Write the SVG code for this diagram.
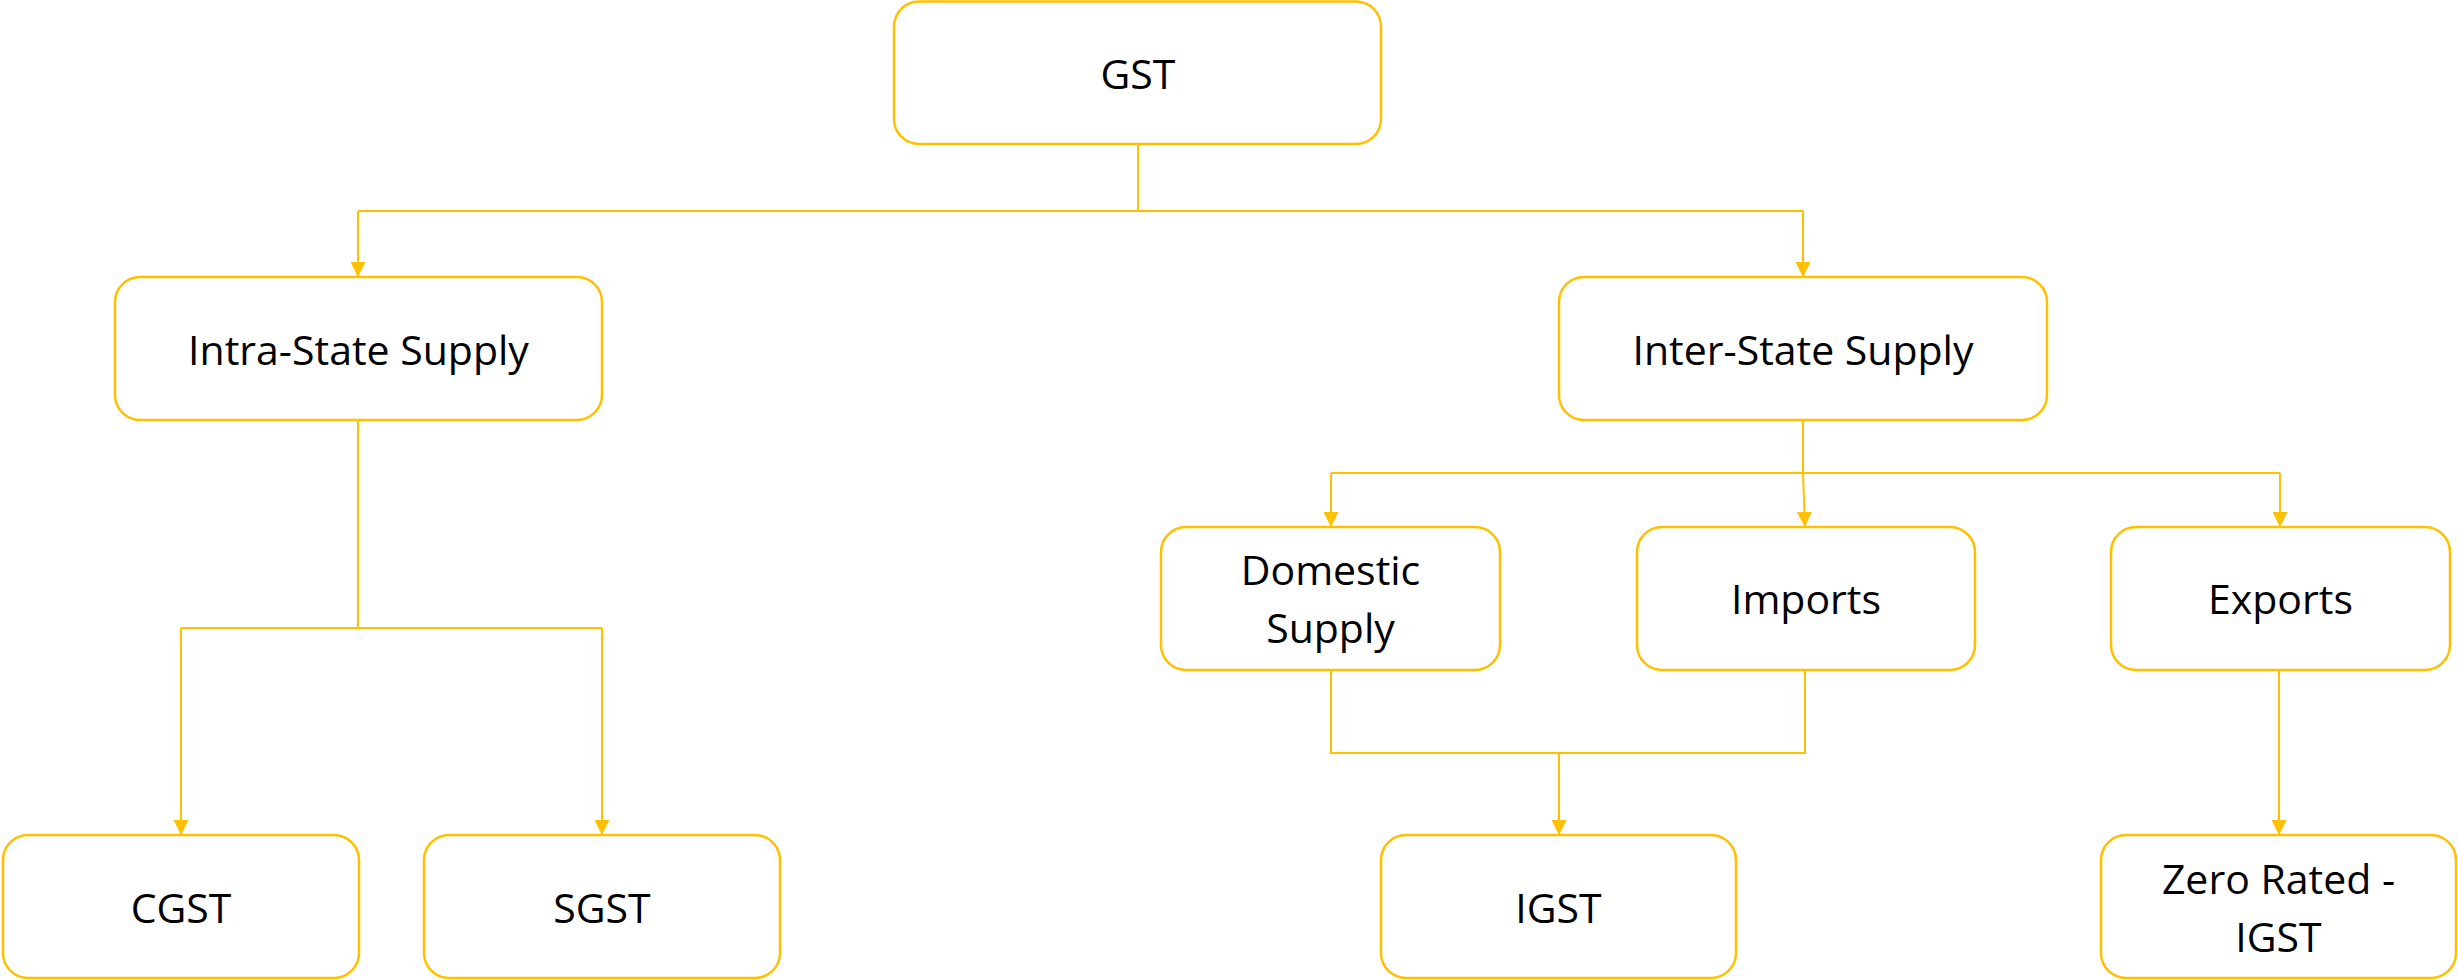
<svg xmlns="http://www.w3.org/2000/svg" width="2458" height="980" viewBox="0 0 2458 980">
  <style>
    .box { fill: #FFFFFF; stroke: #FFC000; stroke-width: 2.5; }
    .lbl { font-family: "Open Sans", "Liberation Sans", sans-serif; font-size: 41px; fill: #000000; text-anchor: middle; }
    .wire { fill: none; stroke: #FFC000; stroke-width: 2; }
    .arrow { fill: none; stroke: #FFC000; stroke-width: 2; marker-end: url(#tip); }
  </style>
  <defs>
    <marker id="tip" markerUnits="userSpaceOnUse" markerWidth="15" markerHeight="15" viewBox="0 0 15 15" refX="15" refY="7.5" orient="auto">
      <path d="M0,0 L15,7.5 L0,15 Z" fill="#FFC000"/>
    </marker>
  </defs>
  <rect width="2458" height="980" fill="#FFFFFF"/>

  <!-- connectors -->
  <g id="connectors">
    <path class="wire" d="M1138,144 V211 H358"/>
    <path class="arrow" d="M358,211 V277"/>
    <path class="wire" d="M1138,211 H1803"/>
    <path class="arrow" d="M1803,211 V277"/>

    <path class="wire" d="M358,420 V628 H181"/>
    <path class="arrow" d="M181,628 V835"/>
    <path class="wire" d="M358,628 H602"/>
    <path class="arrow" d="M602,628 V835"/>

    <path class="wire" d="M1803,420 V473 H1331"/>
    <path class="arrow" d="M1331,473 V527"/>
    <path class="arrow" d="M1803,473 L1805,527"/>
    <path class="wire" d="M1803,473 H2280"/>
    <path class="arrow" d="M2280,473 V527"/>

    <path class="wire" d="M1331,670 V753 H1805 V670"/>
    <path class="arrow" d="M1559,753 V835"/>

    <path class="arrow" d="M2279,670 V835"/>
  </g>

  <!-- nodes -->
  <g id="gst">
    <rect class="box" x="894" y="1.5" width="487" height="142.5" rx="25"/>
    <text class="lbl" x="1138" y="89">GST</text>
  </g>
  <g id="intra-state">
    <rect class="box" x="115" y="277" width="487" height="143" rx="25"/>
    <text class="lbl" x="358.5" y="365">Intra-State Supply</text>
  </g>
  <g id="inter-state">
    <rect class="box" x="1559" y="277" width="488" height="143" rx="25"/>
    <text class="lbl" x="1803" y="365">Inter-State Supply</text>
  </g>
  <g id="domestic">
    <rect class="box" x="1161" y="527" width="339" height="143" rx="25"/>
    <text class="lbl" x="1330.5" y="585">Domestic</text>
    <text class="lbl" x="1330.5" y="643">Supply</text>
  </g>
  <g id="imports">
    <rect class="box" x="1637" y="527" width="338" height="143" rx="25"/>
    <text class="lbl" x="1806" y="614">Imports</text>
  </g>
  <g id="exports">
    <rect class="box" x="2111" y="527" width="339" height="143" rx="25"/>
    <text class="lbl" x="2280.5" y="614">Exports</text>
  </g>
  <g id="cgst">
    <rect class="box" x="3" y="835" width="356" height="143" rx="25"/>
    <text class="lbl" x="181" y="923">CGST</text>
  </g>
  <g id="sgst">
    <rect class="box" x="424" y="835" width="356" height="143" rx="25"/>
    <text class="lbl" x="602" y="923">SGST</text>
  </g>
  <g id="igst">
    <rect class="box" x="1381" y="835" width="355" height="143" rx="25"/>
    <text class="lbl" x="1558.5" y="923">IGST</text>
  </g>
  <g id="zero-rated">
    <rect class="box" x="2101" y="835" width="355" height="143" rx="25"/>
    <text class="lbl" x="2278.5" y="894">Zero Rated -</text>
    <text class="lbl" x="2278.5" y="952">IGST</text>
  </g>
</svg>
